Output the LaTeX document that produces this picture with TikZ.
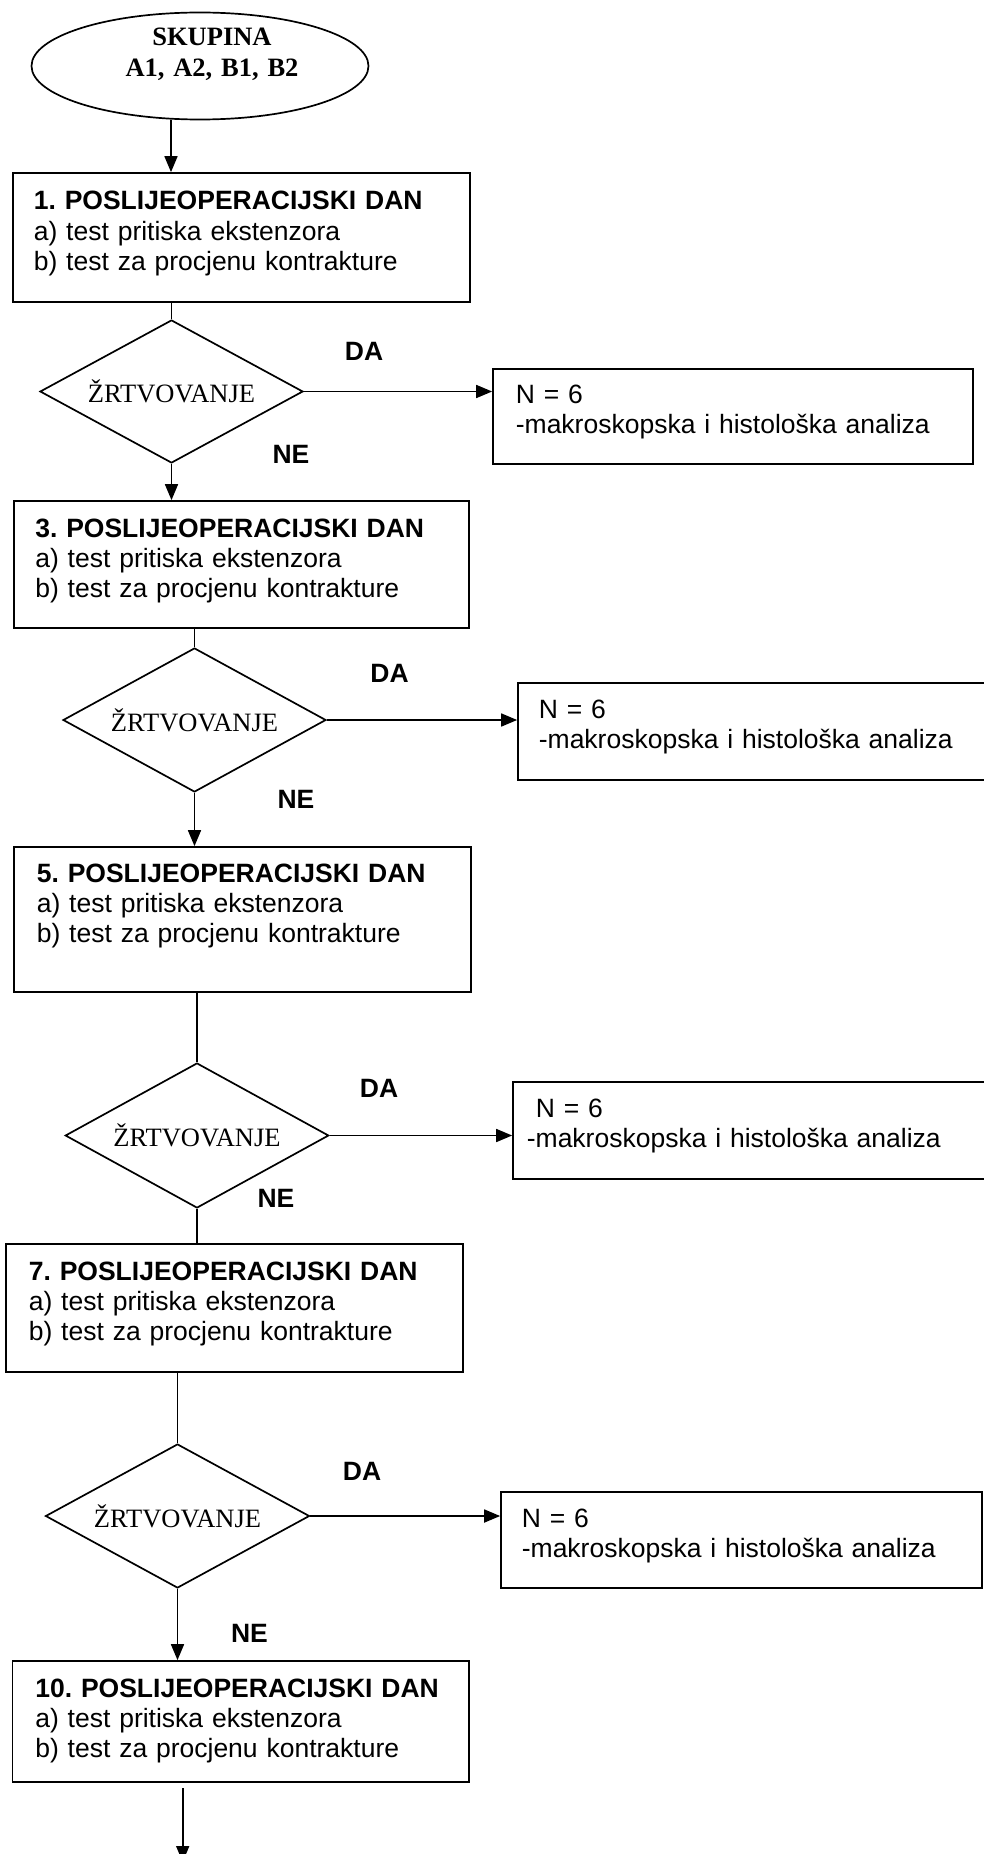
\documentclass[tikz,border=0pt]{standalone}
\usepackage{fontspec}
\setmainfont{Liberation Serif}
\setsansfont{Liberation Sans}
\usetikzlibrary{shapes.geometric,arrows.meta}
\frenchspacing
\begin{document}
\begin{tikzpicture}[x=1pt,y=-1pt,line width=1.7pt,
  box/.style={draw,rectangle,inner sep=0pt},
  dia/.style={draw,diamond,aspect=1.84,inner sep=0pt,font=\rmfamily\fontsize{26.5}{30}\selectfont},
  txt/.style={anchor=base west,inner sep=0pt,text width=455pt,align=left,font=\sffamily\fontsize{26.5}{30}\selectfont},
  lbl/.style={anchor=base,inner sep=0pt,font=\sffamily\bfseries\fontsize{26.5}{30}\selectfont},
  arr/.style={-{Triangle[length=16pt,width=13pt]}}]
\useasboundingbox (0,0) rectangle (984,1854);

% start ellipse
\node[draw,ellipse,minimum width=337pt,minimum height=107pt,inner sep=0pt] (E) at (200,66) {};
\node[anchor=base,inner sep=0pt,text width=250pt,align=center,font=\rmfamily\bfseries\fontsize{26.5}{31}\selectfont] (ET) at (212,46) {SKUPINA\\A1, A2, B1, B2};

% day boxes
\node[box,minimum width=457pt,minimum height=129pt] (B1) at (241.5,237.5) {};
\node[txt] (T1) at (33,210) {\textbf{1. POSLIJEOPERACIJSKI DAN}\\a) test pritiska ekstenzora\\b) test za procjenu kontrakture};
\node[box,minimum width=455pt,minimum height=127pt] (B3) at (241.5,564.5) {};
\node[txt] (T3) at (34.5,537) {\textbf{3. POSLIJEOPERACIJSKI DAN}\\a) test pritiska ekstenzora\\b) test za procjenu kontrakture};
\node[box,minimum width=457pt,minimum height=145pt] (B5) at (242.5,919.5) {};
\node[txt] (T5) at (36,882) {\textbf{5. POSLIJEOPERACIJSKI DAN}\\a) test pritiska ekstenzora\\b) test za procjenu kontrakture};
\node[box,minimum width=457pt,minimum height=128pt] (B7) at (234.5,1308) {};
\node[txt] (T7) at (28,1280) {\textbf{7. POSLIJEOPERACIJSKI DAN}\\a) test pritiska ekstenzora\\b) test za procjenu kontrakture};
\node[box,minimum width=456.5pt,minimum height=121pt] (B10) at (240.75,1721.5) {};
\node[txt] (T10) at (34.5,1697) {\textbf{10. POSLIJEOPERACIJSKI DAN}\\a) test pritiska ekstenzora\\b) test za procjenu kontrakture};

% decisions
\node[dia,minimum width=263pt,minimum height=143pt] (D1) at (171.5,391.5) {ŽRTVOVANJE};
\node[dia,minimum width=263pt,minimum height=144pt] (D2) at (194.5,720) {ŽRTVOVANJE};
\node[dia,minimum width=263.5pt,minimum height=145pt] (D3) at (197,1135.5) {ŽRTVOVANJE};
\node[dia,minimum width=264pt,minimum height=144pt] (D4) at (177.5,1516) {ŽRTVOVANJE};

% result boxes
\node[box,minimum width=480pt,minimum height=95pt] (N1) at (733,416.5) {};
\node[txt] (NT1) at (515,403) {N = 6\\-makroskopska i histološka analiza};
\node[box,minimum width=477pt,minimum height=97pt] (N2) at (756.5,731.5) {};
\node[txt] (NT2) at (538,718) {N = 6\\-makroskopska i histološka analiza};
\node[box,minimum width=482pt,minimum height=97pt] (N3) at (754,1130.5) {};
\node[txt] (NT3) at (526,1117) {\hspace*{9pt}N = 6\\-makroskopska i histološka analiza};
\node[box,minimum width=481pt,minimum height=96pt] (N4) at (741.5,1540) {};
\node[txt] (NT4) at (521,1527) {N = 6\\-makroskopska i histološka analiza};

% labels
\node[lbl] (DA1) at (364,360) {DA};
\node[lbl] (NE1) at (291,463) {NE};
\node[lbl] (DA2) at (389.5,682) {DA};
\node[lbl] (NE2) at (296,808) {NE};
\node[lbl] (DA3) at (379,1097) {DA};
\node[lbl] (NE3) at (276,1207) {NE};
\node[lbl] (DA4) at (362,1480) {DA};
\node[lbl] (NE4) at (249.5,1642) {NE};

% connectors
\draw[arr] (E.south -| 171,0) -- (B1.north -| 171,0);
\draw (D1.north |- B1.south) -- (D1.north);
\draw[arr] (D1.east) -- (D1.east -| N1.west);
\draw[arr] (D1.south) -- (D1.south |- B3.north);
\draw (D2.north |- B3.south) -- (D2.north);
\draw[arr] (D2.east) -- (D2.east -| N2.west);
\draw[arr] (D2.south) -- (D2.south |- B5.north);
\draw (D3.north |- B5.south) -- (D3.north);
\draw[arr] (D3.east) -- (D3.east -| N3.west);
\draw (D3.south) -- (D3.south |- B7.north);
\draw (D4.north |- B7.south) -- (D4.north);
\draw[arr] (D4.east) -- (D4.east -| N4.west);
\draw[arr] (D4.south) -- (D4.south |- B10.north);
\coordinate (fs) at (182.7,1788);
\coordinate (fe) at (182.7,1862);
\draw[arr] (fs) -- (fe);
\end{tikzpicture}
\end{document}
